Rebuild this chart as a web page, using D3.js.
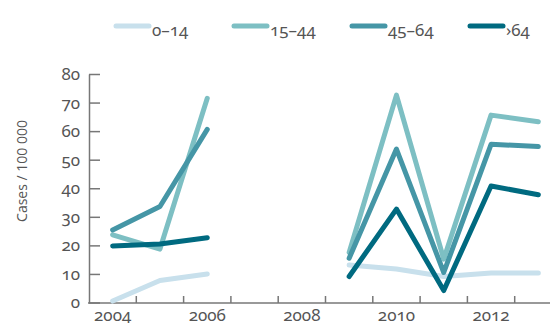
<!DOCTYPE html>
<html>
<head>
<meta charset="utf-8">
<script src="https://cdn.jsdelivr.net/npm/d3@7"></script>
<style>
  body{margin:0;background:#fff;}
  svg text{font-family:"Noto Sans",sans-serif;font-feature-settings:"onum";fill:#555;}
</style>
</head>
<body>
<svg id="chart" width="550" height="323"></svg>
<script>
const years=[2004,2005,2006,2007,2008,2009,2010,2011,2012,2013];
const yearLabels=[2004,2006,2008,2010,2012];
const yTicks=[0,10,20,30,40,50,60,70,80];
const groups=["0–14","15–44","45–64","›64"];
const colors=["#c8e0ec","#7dbfc3","#4596a6","#006a80"];
// null = no data that year
const age0_14=[0.5,7.7,10.0,null,null,13.1,11.7,9.1,10.3,10.3];
const age15_44=[23.7,18.7,71.5,null,null,17.5,72.6,15.2,65.6,63.3];
const age45_64=[25.4,33.6,60.6,null,null,15.5,53.7,10.5,55.4,54.6];
const age65=[19.8,20.5,22.7,null,null,9.1,32.7,4.2,40.8,37.7];
const series=[age0_14,age15_44,age45_64,age65];

const svg=d3.select("#chart");
const m={left:89,top:74,bottom:303};

const x=d3.scaleBand().domain(years).range([m.left,m.left+473]);
const y=d3.scaleLinear().domain([0,80]).range([m.bottom-0.5,m.top]);

// y axis
const ya=svg.append("g").attr("transform",`translate(${m.left},0)`)
  .call(d3.axisLeft(y).tickValues(yTicks).tickSize(-11).tickPadding(8).tickSizeOuter(0));
ya.select(".domain").attr("stroke","#777").attr("stroke-width",1.5);
ya.selectAll(".tick line").attr("stroke","#777").attr("stroke-width",1.5);
ya.selectAll("text").attr("font-size",17).attr("fill","#555").attr("dx",-1);

// x axis: ticks at band boundaries, labels at band centres
const xa=svg.append("g").attr("transform",`translate(0,${m.bottom})`);
xa.append("line").attr("x1",m.left-1).attr("x2",m.left+473).attr("stroke","#777").attr("stroke-width",1.5);
xa.selectAll(".xt").data(years.slice(1)).join("line")
  .attr("x1",d=>x(d)).attr("x2",d=>x(d)).attr("y1",0).attr("y2",-7)
  .attr("stroke","#777").attr("stroke-width",1.5);
xa.selectAll(".xl").data(yearLabels).join("text")
  .attr("x",d=>x(d)+x.bandwidth()/2).attr("y",18)
  .attr("text-anchor","middle").attr("font-size",17).text(d=>d);

// y title
svg.append("text").attr("transform","translate(27,171) rotate(-90)")
  .attr("text-anchor","middle").attr("font-size",14)
  .style("font-family","'Open Sans',sans-serif").style("font-feature-settings","normal")
  .text("Cases / 100 000");

// lines
const line=d3.line().defined(d=>d!=null)
  .x((d,i)=>x(years[i])+x.bandwidth()/2).y(d=>y(d));
svg.selectAll(".series").data(series).join("path")
  .attr("fill","none").attr("stroke",(d,i)=>colors[i])
  .attr("stroke-width",5).attr("stroke-linecap","round").attr("stroke-linejoin","round")
  .attr("d",line);

// legend
const lg=svg.selectAll(".lg").data(groups).join("g")
  .attr("transform",(d,i)=>`translate(${116+i*118},26)`);
lg.append("line").attr("x1",0).attr("x2",33)
  .attr("stroke",(d,i)=>colors[i]).attr("stroke-width",5).attr("stroke-linecap","round");
lg.append("text").attr("x",36).attr("y",10).attr("font-size",17).text(d=>d);
</script>
</body>
</html>
